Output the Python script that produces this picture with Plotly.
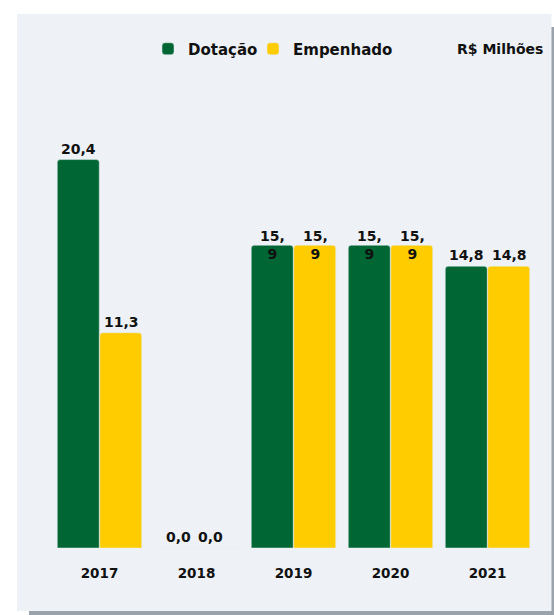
import plotly.graph_objects as go

# ---- data ----
years = ["2017", "2018", "2019", "2020", "2021"]
dotacao = [20.4, 0.0, 15.9, 15.9, 14.8]
empenhado = [11.3, 0.0, 15.9, 15.9, 14.8]
dot_labels = ["20,4", "0,0", "15,<br>9", "15,<br>9", "14,8"]
emp_labels = ["11,3", "0,0", "15,<br>9", "15,<br>9", "14,8"]
unit_label = "R$ Milhões"

GREEN = "#006633"
YELLOW = "#FFCC00"
PANEL = "#EEF1F5"
SHADOW = "#9AA3AC"
TXT = "#111111"
FONT = "DejaVu Sans"

W, H = 554, 615
ML, MR, MT, MB = 51, 18, 72, 67
PW, PH = W - ML - MR, H - MT - MB


def px_x(p):
    return (p - ML) / PW


def px_y(p):
    return (H - MB - p) / PH


def bold(s):
    return "<b>" + s + "</b>"


fig = go.Figure()
fig.add_trace(go.Bar(name=bold("Dotação"), x=years, y=dotacao, legend="legend",
                     marker=dict(color=GREEN, cornerradius=3)))
fig.add_trace(go.Bar(name=bold("Empenhado"), x=years, y=empenhado, legend="legend2",
                     marker=dict(color=YELLOW, cornerradius=3)))

ann = []
for labels, vals, sgn in ((dot_labels, dotacao, -1), (emp_labels, empenhado, 1)):
    for i, (v, t) in enumerate(zip(vals, labels)):
        wrapped = "<br>" in t
        off = 16 if v == 0 else 21.5
        ann.append(dict(
            x=i, y=v, xref="x", yref="y", text=bold(t), showarrow=False,
            xshift=sgn * off - (2 if v == 0 else 0), yshift=0 if wrapped else 1,
            yanchor="middle" if wrapped else "bottom",
            font=dict(family=FONT, size=14, color=TXT),
        ))
ann.append(dict(
    x=px_x(500), y=px_y(49), xref="paper", yref="paper", text=bold(unit_label),
    showarrow=False, xanchor="center", yanchor="middle",
    font=dict(family=FONT, size=14, color=TXT),
))

shapes = [
    dict(type="rect", xref="paper", yref="paper", layer="below",
         x0=px_x(29), x1=px_x(556), y0=px_y(617), y1=px_y(27),
         fillcolor=SHADOW, line=dict(width=0)),
    dict(type="rect", xref="paper", yref="paper", layer="below",
         x0=px_x(17), x1=px_x(551.5), y0=px_y(611), y1=px_y(14),
         fillcolor=PANEL, line=dict(width=0)),
]

leg_common = dict(orientation="h", yanchor="middle", xanchor="left",
                  font=dict(family=FONT, size=15, color=TXT),
                  bgcolor="rgba(0,0,0,0)")

fig.update_layout(
    width=W, height=H,
    margin=dict(l=ML, r=MR, t=MT, b=MB),
    paper_bgcolor="white", plot_bgcolor="rgba(0,0,0,0)",
    barmode="group", bargap=0.124, bargroupgap=0.012,
    showlegend=True,
    legend=dict(x=px_x(148), y=px_y(49), **leg_common),
    legend2=dict(x=px_x(253), y=px_y(49), **leg_common),
    annotations=ann, shapes=shapes,
    font=dict(family=FONT, color=TXT),
)
fig.update_xaxes(type="category", showgrid=False, showline=False, zeroline=False,
                 tickmode="array", tickvals=years, ticktext=[bold(y) for y in years],
                 ticks="outside", ticklen=13, tickcolor="rgba(0,0,0,0)",
                 tickfont=dict(family=FONT, size=13.5, color=TXT))
fig.update_yaxes(range=[0, 25], visible=False, showgrid=False, zeroline=False)

fig.write_html("out.html", config={"displayModeBar": False},
               post_script="document.body.style.margin='0px';")
